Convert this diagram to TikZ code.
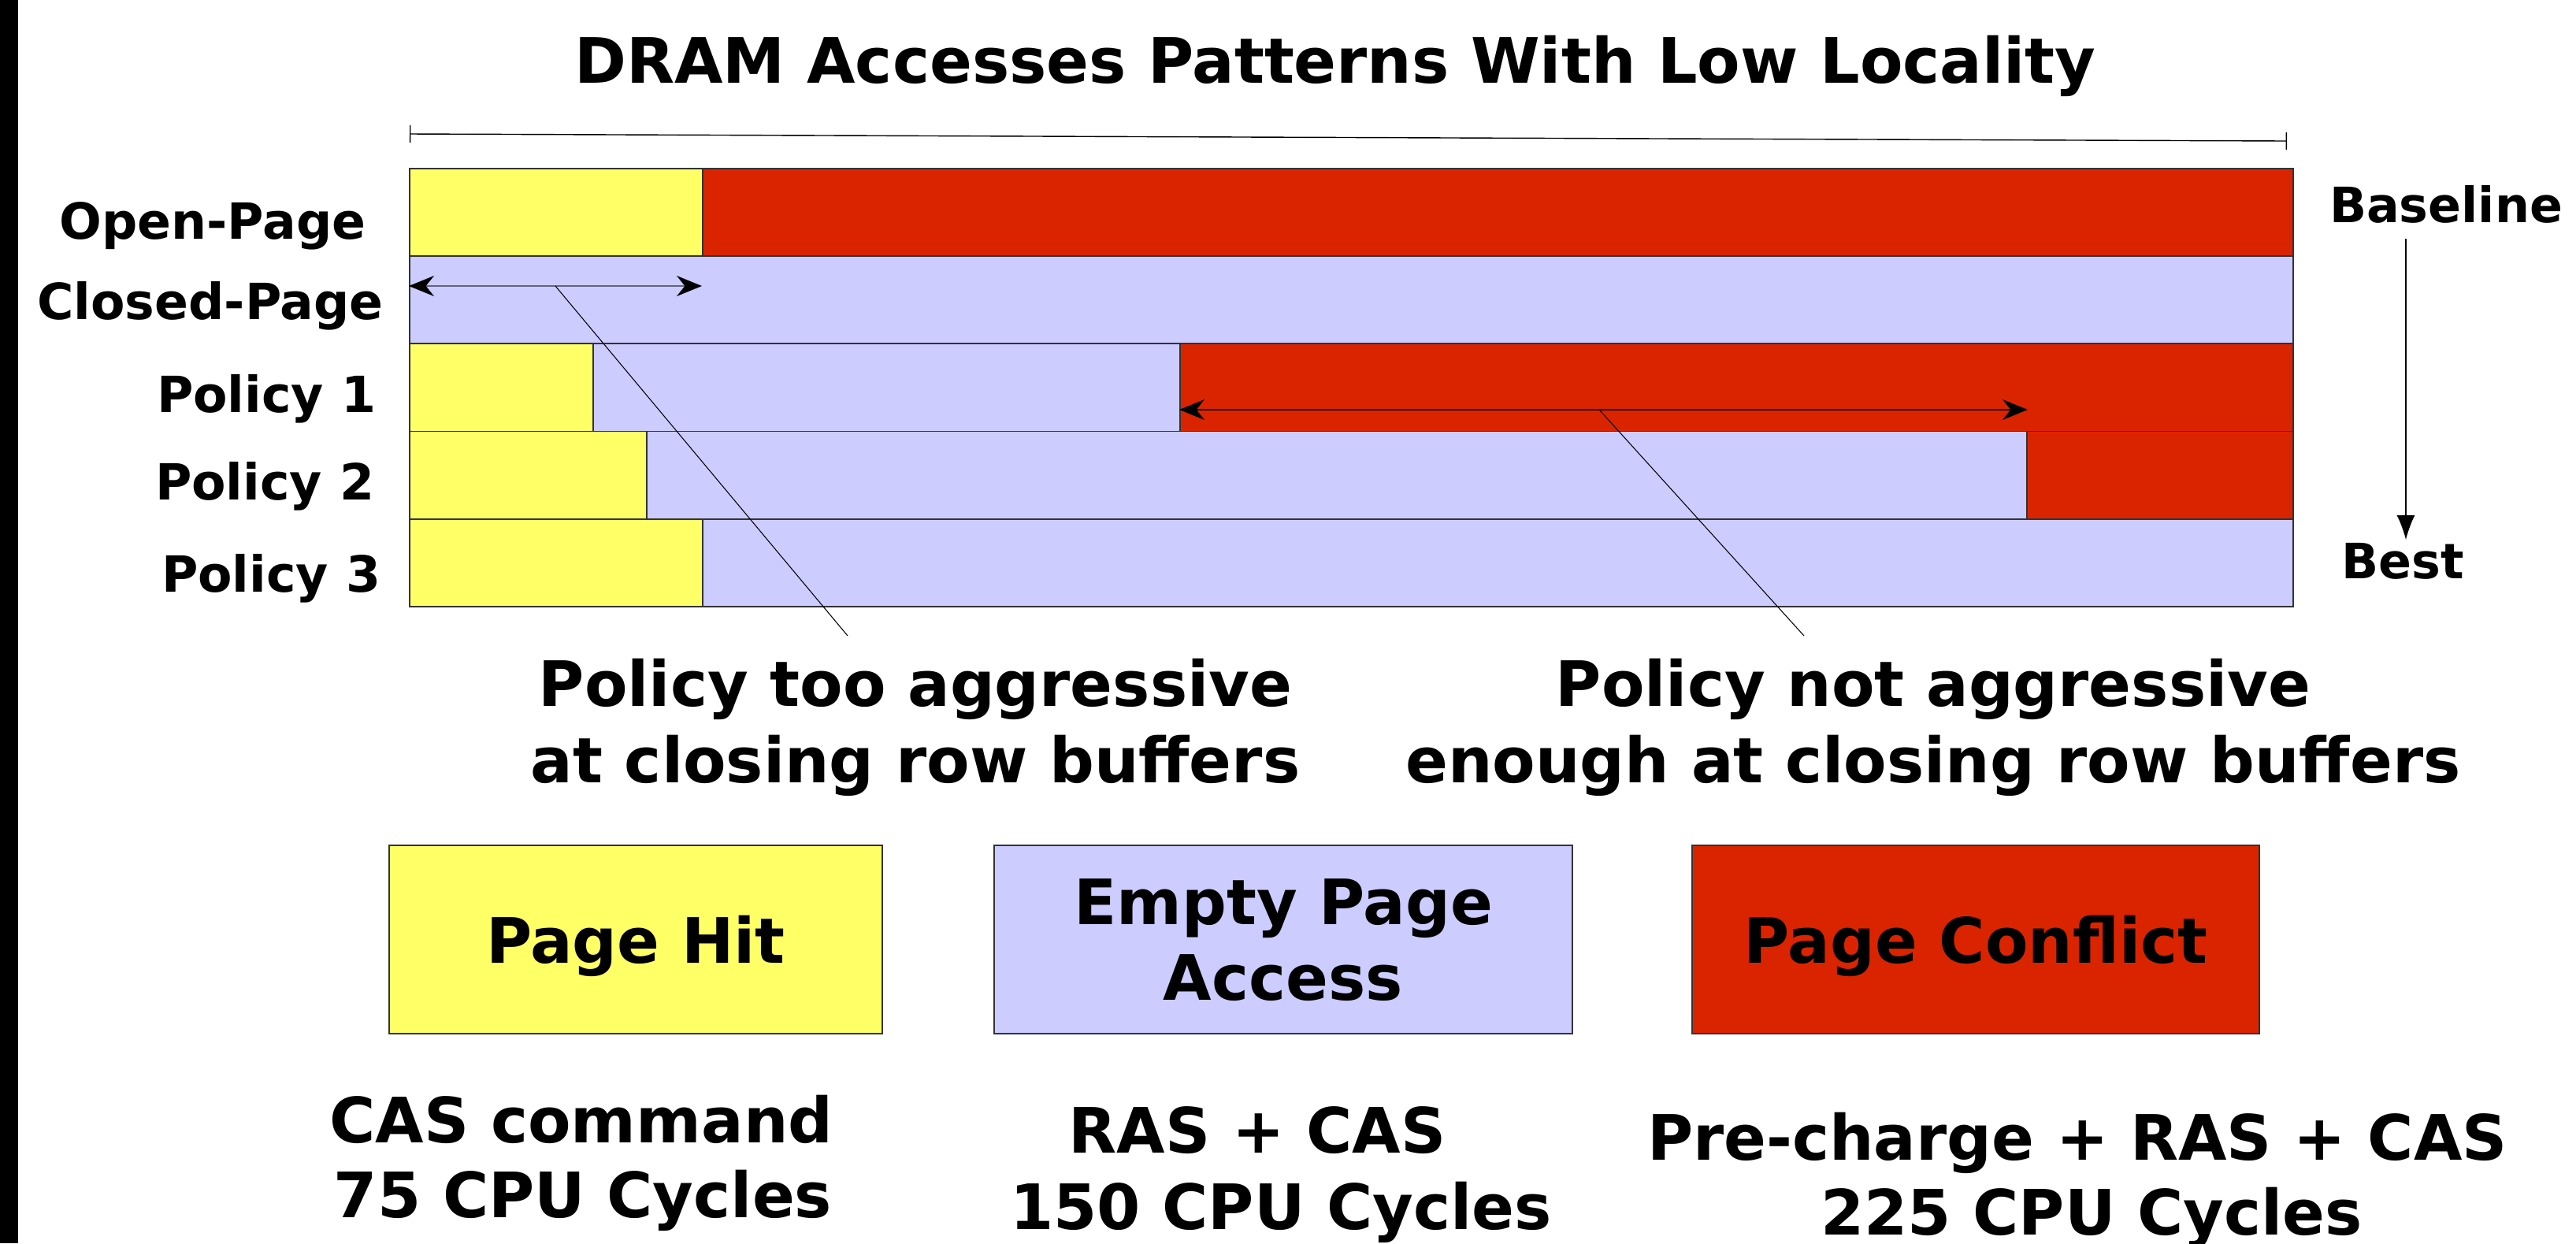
\documentclass[tikz,border=0pt]{standalone}
\usepackage{fontspec}
\setmainfont{DejaVu Sans}
\usetikzlibrary{arrows.meta}

\definecolor{hitcol}{RGB}{255,255,102}
\definecolor{emptycol}{RGB}{204,204,255}
\definecolor{confcol}{RGB}{218,36,0}
\definecolor{spancol}{RGB}{100,100,128}

\begin{document}
\begin{tikzpicture}[
  cell/.style={draw=black!80, line width=0.5pt, anchor=north west, inner sep=0pt,
               minimum height=11.12mm},
  hitcell/.style={cell, fill=hitcol},
  emptycell/.style={cell, fill=emptycol},
  confcell/.style={cell, fill=confcol},
  legbox/.style={draw=black!80, line width=0.5pt, minimum height=23.9mm, inner sep=0pt,
                 text depth=0pt, align=center, font=\fontsize{22.6pt}{27.5pt}\selectfont\bfseries},
  rowlab/.style={anchor=base, inner sep=0pt, font=\fontsize{18pt}{21pt}\selectfont\bfseries},
  big/.style={anchor=base, inner sep=0pt, align=center,
              font=\fontsize{22.6pt}{27.5pt}\selectfont\bfseries},
  side/.style={anchor=base, inner sep=0pt, font=\fontsize{17.6pt}{21pt}\selectfont\bfseries},
  dbl/.style={{Stealth[length=3.2mm, width=2.6mm, color=black]}-{Stealth[length=3.2mm, width=2.6mm, color=black]},
              line width=0.6pt},
  ptr/.style={line width=0.3pt},
]
\useasboundingbox (0,0) rectangle (32.70,-15.78);
\fill (0,0) rectangle (0.23,-15.78);

% title and span of the trace
\node[big] (title) at (16.95,-1.05) {DRAM Accesses Patterns With Low Locality};
\coordinate (rl) at (5.20,-1.70);
\coordinate (rr) at (29.03,-1.79);
\draw[{Bar[width=2.2mm]}-{Bar[width=2.2mm]}, line width=0.4pt] (rl) -- (rr);

% rows
\node[hitcell, minimum width=37.2mm] (o1) at (5.19,-2.13) {};
\node[confcell, minimum width=201.9mm] (o2) at (8.91,-2.13) {};
\node[emptycell, minimum width=239.1mm] (c1) at (5.19,-3.242) {};
\node[hitcell, minimum width=23.3mm] (p11) at (5.19,-4.354) {};
\node[emptycell, minimum width=74.5mm] (p12) at (7.52,-4.354) {};
\node[confcell, minimum width=141.3mm] (p13) at (14.97,-4.354) {};
\node[hitcell, minimum width=30.1mm] (p21) at (5.19,-5.466) {};
\node[emptycell, minimum width=175.2mm] (p22) at (8.20,-5.466) {};
\node[confcell, minimum width=33.8mm] (p23) at (25.72,-5.466) {};
\node[hitcell, minimum width=37.2mm] (p31) at (5.19,-6.578) {};
\node[emptycell, minimum width=201.9mm] (p32) at (8.91,-6.578) {};

\node[rowlab] (lo) at (2.70,-3.03) {Open-Page};
\node[rowlab] (lc) at (2.67,-4.05) {Closed-Page};
\node[rowlab] (l1) at (3.38,-5.23) {Policy 1};
\node[rowlab] (l2) at (3.36,-6.34) {Policy 2};
\node[rowlab] (l3) at (3.44,-7.51) {Policy 3};

% baseline -> best
\node[side] (base) at (31.05,-2.82) {Baseline};
\node[side] (best) at (30.50,-7.34) {Best};
\coordinate (bt) at (30.54,-3.03);
\coordinate (bb) at (30.54,-6.85);
\draw[-{Latex[length=3.1mm, width=2.3mm]}, line width=0.4pt] (bt) -- (bb);

% too aggressive
\coordinate (a1l) at (5.19,-3.63);
\coordinate (a1r) at (8.91,-3.63);
\coordinate (p1) at (7.05,-3.63);
\coordinate (p1e) at (10.76,-8.07);
\draw[dbl, spancol] (a1l) -- (a1r);
\draw[ptr] (p1) -- (p1e);
\node[big] (too) at (11.62,-9.93) {Policy too aggressive\\at closing row buffers};

% not aggressive enough
\coordinate (a2l) at (14.97,-5.20);
\coordinate (a2r) at (25.74,-5.20);
\coordinate (p2) at (20.30,-5.20);
\coordinate (p2e) at (22.90,-8.07);
\draw[dbl] (a2l) -- (a2r);
\draw[ptr] (p2) -- (p2e);
\node[big] (notenough) at (24.54,-9.93) {Policy not aggressive\\enough at closing row buffers};

% legend
\node[legbox, fill=hitcol, minimum width=62.6mm] (hit) at (8.07,-11.925) {Page Hit};
\node[legbox, fill=emptycol, minimum width=73.4mm] (empty) at (16.29,-11.925) {Empty Page\\Access};
\node[legbox, fill=confcol, minimum width=72.0mm] (conf) at (25.08,-11.925) {Page Conflict};

\node[big] (hitc1) at (7.38,-14.50) {CAS command};
\node[big] (hitc2) at (7.40,-15.45) {75 CPU Cycles};
\node[big] (emc1) at (15.96,-14.63) {RAS + CAS};
\node[big] (emc2) at (16.26,-15.60) {150 CPU Cycles};
\node[big] (cfc1) at (26.37,-14.72) {Pre-charge + RAS + CAS};
\node[big] (cfc2) at (26.55,-15.67) {225 CPU Cycles};
\end{tikzpicture}
\end{document}
